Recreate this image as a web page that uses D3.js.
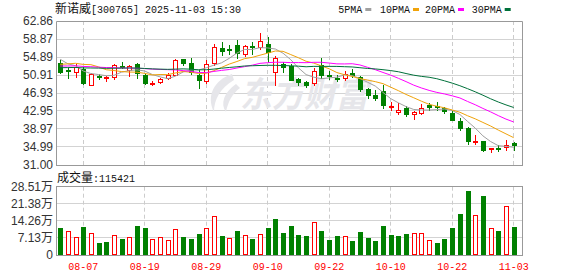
<!DOCTYPE html>
<html><head><meta charset="utf-8">
<script src="https://cdn.jsdelivr.net/npm/d3@7/dist/d3.min.js"></script>
<style>body{margin:0;background:#fff;}svg{display:block;}</style>
</head><body>
<svg id="chart" width="578" height="276"></svg>
<script>
// ---------- data ----------
const dates = ["08-04","08-05","08-06","08-07","08-08","08-11","08-12","08-13","08-14","08-15",
  "08-18","08-19","08-20","08-21","08-22","08-25","08-26","08-27","08-28","08-29",
  "09-01","09-02","09-03","09-04","09-05","09-08","09-09","09-10","09-11","09-12",
  "09-15","09-16","09-17","09-18","09-19","09-22","09-23","09-24","09-25","09-26",
  "09-29","09-30","10-09","10-10","10-13","10-14","10-15","10-16","10-17","10-20",
  "10-21","10-22","10-23","10-24","10-27","10-28","10-29","10-30","10-31","11-03"];
const opens = [53.57,52.09,51.65,52.31,48.77,50.76,50.25,50.40,52.83,51.94,
  53.35,50.98,48.92,49.29,50.32,50.98,54.45,53.57,50.98,49.66,
  53.57,56.88,56.59,57.62,55.63,57.25,57.03,57.77,51.50,53.35,
  52.83,50.03,49.36,49.14,53.05,50.98,50.25,50.25,51.35,50.40,
  47.81,46.56,47.45,43.83,42.65,43.61,42.28,42.50,44.20,44.13,
  43.61,42.50,40.66,39.19,36.09,36.24,34.54,34.76,34.91,35.79];
const highs = [54.30,52.46,53.35,52.61,51.35,51.13,50.62,53.35,53.79,53.20,
  53.57,51.13,49.51,50.25,51.28,54.45,54.45,54.67,52.09,54.30,
  57.77,58.14,57.62,58.73,57.62,58.21,60.13,59.38,55.19,53.79,
  53.35,50.25,49.66,52.46,54.67,51.72,50.98,51.72,52.31,50.62,
  48.04,47.67,48.77,44.94,44.72,43.98,42.87,44.50,44.79,44.94,
  43.76,43.02,41.40,39.33,37.56,36.38,34.76,35.50,36.60,36.09];
const lows = [51.35,50.25,50.47,48.92,48.77,50.03,49.51,50.10,52.46,50.77,
  50.25,48.92,48.63,49.07,50.10,50.91,53.20,51.13,48.04,49.14,
  53.20,55.41,55.56,54.67,55.04,55.56,56.74,53.85,48.63,51.50,
  49.88,48.77,48.18,48.63,50.25,50.10,49.66,49.88,50.40,47.45,
  45.82,45.45,43.61,43.24,42.36,41.91,41.25,42.28,43.24,43.24,
  42.43,40.88,38.82,35.72,35.72,34.17,33.88,34.02,34.39,34.39];
const closes = [51.58,51.72,52.61,49.07,51.20,50.47,50.40,53.05,52.61,52.90,
  51.35,49.07,49.14,50.03,50.91,54.16,53.64,51.50,49.88,53.35,
  57.03,56.30,56.44,55.78,57.25,57.03,58.36,56.07,54.60,52.61,
  49.88,49.29,48.63,51.72,50.98,50.76,50.03,51.20,50.84,47.89,
  46.56,45.82,44.20,43.98,43.24,42.36,42.65,43.61,43.90,43.76,
  43.02,41.03,39.19,36.24,36.38,34.39,34.76,34.61,35.50,35.35];
// closes of the 29 sessions before the window (estimated from where the MA lines start)
const priorCloses = [51.0,51.5,52.3,51.8,51.2,52.0,52.4,51.6,52.1,52.0,
  51.5,52.0,51.8,52.3,52.6,52.0,53.5,54.2,53.0,52.3,
  50.8,51.3,51.5,51.8,55.4,56.7,54.8,54.9,54.0];
const volumes = [114000,100000,75000,118000,92000,51000,56000,83000,68000,75000,
  121000,114000,68000,75000,63000,108000,77000,68000,88000,111000,
  163000,79000,70000,100000,82000,68000,86000,114000,150000,92000,
  121000,83000,79000,136000,100000,63000,79000,79000,58000,96000,
  71000,58000,121000,83000,79000,88000,92000,92000,61000,50000,
  67000,113000,171000,267000,166000,246000,111000,100000,203000,115421];
const priceTicks = [62.86,58.87,54.89,50.91,46.93,42.95,38.97,34.99,31.00];
const volTicks = [285100,213800,142600,71300,0];
const volTickLabels = ["28.51万","21.38万","14.26万","7.13万","0"];
const dateLabels = ["08-07","08-19","08-29","09-10","09-22","10-10","10-22","11-03"];
const maPeriods = [5,10,20,30];
const maNames = ["5PMA","10PMA","20PMA","30PMA"];
const maColors = ["#a0a0a0","#f0a30a","#ff00ff","#00703a"];
const titleName = "新诺威";
const titleRest = "[300765] 2025-11-03 15:30";
const volLabel = "成交量";
const lastVolume = 115421;

// ---------- layout ----------
const UP = "#ff0000", DOWN = "#008000";
const svg = d3.select("#chart");
const L = 56, R = 522;
const pTop = 21, pBot = 165, vTop = 186.7, vBot = 255;
const mono = "'Liberation Mono', 'DejaVu Sans Mono', monospace";
const cjk = "'Noto Sans CJK SC', sans-serif";
const sans = "'Liberation Sans', Arial, 'Noto Sans CJK SC', sans-serif";

const x = d3.scaleBand().domain(dates).range([56.3, 517.5]).padding(0);
const cx = d => x(d) + x.bandwidth() / 2;
const y = d3.scaleLinear().domain([priceTicks[priceTicks.length-1], priceTicks[0]]).range([pBot, pTop]);
const yv = d3.scaleLinear().domain([0, volTicks[0]]).range([vBot, vTop]);
const crisp = v => Math.floor(v) + 0.5;

// ---------- grids ----------
const g = svg.append("g");
// horizontal price grid
g.selectAll(".hp").data(priceTicks.slice(1, -1)).join("line")
  .attr("x1", L).attr("x2", R).attr("y1", d => crisp(y(d))).attr("y2", d => crisp(y(d)))
  .attr("stroke", "#d3d3d3");
g.selectAll(".hv").data(volTicks.slice(1, -1)).join("line")
  .attr("x1", L).attr("x2", R).attr("y1", d => crisp(yv(d))).attr("y2", d => crisp(yv(d)))
  .attr("stroke", "#d3d3d3");
// vertical dashed grid
[[pTop, pBot], [vTop, vBot]].forEach(([t, b]) => {
  g.selectAll(null).data(dateLabels).join("line")
    .attr("x1", d => crisp(cx(d))).attr("x2", d => crisp(cx(d)))
    .attr("y1", t).attr("y2", b)
    .attr("stroke", "#cccccc").attr("stroke-dasharray", "4,3");
});

// ---------- watermark ----------
const wm = svg.append("g").attr("fill", "#e6e6ea");
wm.append("path").attr("d", "M232,74 C214,80 206,96 214,112 C214,100 220,88 234,80 Z M236,84 C224,92 220,104 226,112 C228,102 232,94 240,88 Z");
wm.append("text").attr("x", 240).attr("y", 107).attr("font-family", cjk)
  .attr("font-size", 35).attr("font-weight", "bold").attr("font-style", "italic")
  .attr("textLength", 128).attr("lengthAdjust", "spacingAndGlyphs").text("东方财富");

// ---------- borders ----------
const b = svg.append("g").attr("stroke", "#999").attr("fill", "none");
b.append("path").attr("d", `M${L+0.5},${pBot+0.5}V${crisp(pTop)}H${R+0.5}V${pBot+0.5}`);
b.append("line").attr("x1", L).attr("x2", R+1).attr("y1", pBot+0.5).attr("y2", pBot+0.5);
b.append("rect").attr("x", L+0.5).attr("y", crisp(vTop)).attr("width", R-L).attr("height", crisp(vBot)-crisp(vTop));

// ---------- axes labels ----------
const ya = svg.append("g").attr("transform", `translate(${L},0)`)
  .call(d3.axisLeft(y).tickValues(priceTicks).tickSize(0).tickPadding(3).tickFormat(d3.format(".2f")));
ya.select(".domain").remove();
ya.selectAll("text").attr("font-family", sans).attr("font-size", 12).attr("fill", "#333");

const va = svg.append("g").attr("transform", `translate(${L},0)`)
  .call(d3.axisLeft(yv).tickValues(volTicks).tickSize(0).tickPadding(3).tickFormat((d, i) => volTickLabels[i]));
va.select(".domain").remove();
va.selectAll("text").attr("font-family", sans).attr("font-size", 12).attr("fill", "#333");

const xa = svg.append("g").attr("transform", `translate(0,${vBot})`)
  .call(d3.axisBottom(x).tickValues(dateLabels).tickSize(0).tickPadding(8));
xa.select(".domain").remove();
xa.selectAll("text").attr("font-family", mono).attr("font-size", 10).attr("fill", "#ff0000");

// ---------- candles ----------
const data = dates.map((d, i) => ({d, o: opens[i], h: highs[i], l: lows[i], c: closes[i], v: volumes[i],
  pc: i === 0 ? priorCloses[priorCloses.length-1] : closes[i-1]}));
const cg = svg.append("g");
const cand = cg.selectAll("g").data(data).join("g");
cand.append("line")
  .attr("x1", d => Math.round(cx(d.d)) + 0.5).attr("x2", d => Math.round(cx(d.d)) + 0.5)
  .attr("y1", d => Math.round(y(d.h))).attr("y2", d => Math.round(y(d.l)) + 1)
  .attr("stroke", d => d.c >= d.o ? UP : DOWN);
cand.each(function(d) {
  const s = d3.select(this);
  const xc = Math.round(cx(d.d));
  const top = Math.round(y(Math.max(d.o, d.c))), bot = Math.round(y(Math.min(d.o, d.c)));
  if (d.c >= d.o) {
    if (bot - top <= 1) {
      s.append("rect").attr("x", xc - 2).attr("y", top).attr("width", 5).attr("height", Math.max(1, bot - top + 1)).attr("fill", UP);
    } else {
      s.append("rect").attr("x", xc - 1.5).attr("y", top + 0.5).attr("width", 4).attr("height", bot - top)
        .attr("fill", "#fff").attr("stroke", UP);
    }
  } else {
    s.append("rect").attr("x", xc - 2).attr("y", top).attr("width", 5).attr("height", Math.max(1, bot - top + 1)).attr("fill", DOWN);
  }
});

// ---------- moving averages ----------
const allCloses = priorCloses.concat(closes);
const off = priorCloses.length;
const line = d3.line().x(p => cx(p.d)).y(p => y(p.v));
maPeriods.forEach((n, k) => {
  const pts = dates.map((d, i) => ({d, v: d3.mean(allCloses.slice(off + i - n + 1, off + i + 1))}));
  svg.append("path").attr("d", line(pts)).attr("fill", "none").attr("stroke", maColors[k]).attr("stroke-width", 1);
});

// ---------- volume ----------
const vg = svg.append("g");
vg.selectAll("rect").data(data).join("rect")
  .each(function(d) {
    const s = d3.select(this);
    const xc = Math.round(cx(d.d));
    const top = Math.round(yv(d.v)), bot = Math.round(yv(0));
    if (d.c >= d.pc) {
      s.attr("x", xc - 1.5).attr("y", top + 0.5).attr("width", 4).attr("height", bot - top - 1)
        .attr("fill", "#fff").attr("stroke", UP);
    } else {
      s.attr("x", xc - 2).attr("y", top).attr("width", 5).attr("height", bot - top).attr("fill", DOWN);
    }
  });

// ---------- title & legend ----------
const t = svg.append("text").attr("y", 13).attr("fill", "#111");
t.append("tspan").attr("x", 55).attr("font-family", cjk).attr("font-size", 12).text(titleName);
t.append("tspan").attr("x", 91).attr("font-family", mono).attr("font-size", 10).text(titleRest);

const legX = [338.3, 380, 425, 471.7];
maNames.forEach((nm, k) => {
  svg.append("text").attr("x", legX[k]).attr("y", 13).attr("font-family", mono).attr("font-size", 10)
    .attr("fill", "#111").text(nm);
  svg.append("rect").attr("x", legX[k] + nm.length * 6 + 3).attr("y", 8).attr("width", 6).attr("height", 3)
    .attr("fill", maColors[k]);
});

const vt = svg.append("text").attr("y", 182).attr("fill", "#111");
vt.append("tspan").attr("x", 57).attr("font-family", cjk).attr("font-size", 12).text(volLabel);
vt.append("tspan").attr("x", 93).attr("font-family", mono).attr("font-size", 10).text(":" + lastVolume);
</script>
</body></html>
